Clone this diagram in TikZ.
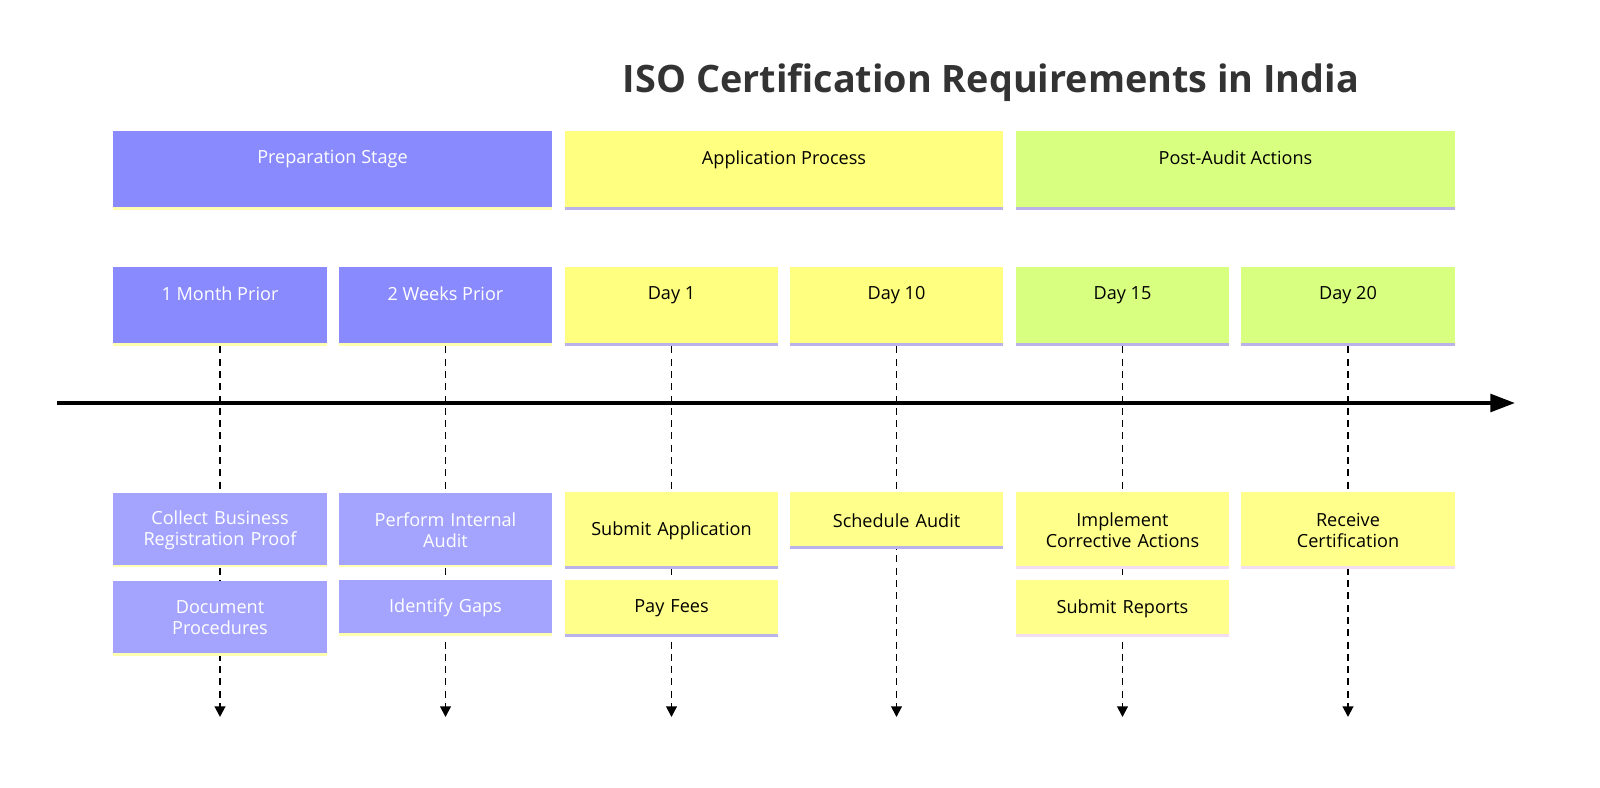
\documentclass[tikz,border=0pt]{standalone}
\usepackage{fontspec}
\setmainfont{Open Sans}
\usetikzlibrary{positioning, arrows.meta}
\definecolor{prepc}{HTML}{8A8AFF}
\definecolor{prepev}{HTML}{A4A4FF}
\definecolor{appc}{HTML}{FFFF80}
\definecolor{postc}{HTML}{D9FF80}
\definecolor{evy}{HTML}{FFFF8C}
\definecolor{stripp}{HTML}{B9B3EA}
\definecolor{stripy}{HTML}{FFFFB0}
\definecolor{strippk}{HTML}{F2DDF2}
\definecolor{ink}{HTML}{333333}
\tikzset{
  box/.style={rectangle, inner sep=0pt, align=center, font=\fontsize{10.3}{12}\selectfont},
  strip/.style={path picture={\draw[#1, line width=1.7pt] ([yshift=0.85pt]path picture bounding box.south west) -- ([yshift=0.85pt]path picture bounding box.south east);}},
  sect/.style={box, minimum width=8.78cm, minimum height=1.58cm, text depth=15pt},
  period/.style={box, minimum width=4.28cm, minimum height=1.58cm, text depth=15pt},
  event/.style={box, minimum width=4.28cm, text width=4cm},
  guide/.style={dash pattern=on 4pt off 3pt, line width=1.1pt, -{Triangle[length=6pt,width=6pt]}},
}
\begin{document}
\begin{tikzpicture}[x=0.02cm, y=-0.02cm]
  \useasboundingbox (0,0) rectangle (1600,788);
  \node[font=\fontsize{21.5}{26}\selectfont\bfseries, text=ink] (title) at (991,83) {ISO Certification Requirements in India};
  % sections
  \node[sect, fill=prepc, text=white, strip=stripy] (prep) at (332.5,170.5) {Preparation Stage};
  \node[sect, fill=appc, strip=stripp] (app) at (784,170.5) {Application Process};
  \node[sect, fill=postc, strip=stripp] (post) at (1235.5,170.5) {Post-Audit Actions};
  % periods
  \node[period, fill=prepc, text=white, strip=stripy] (p1) at (220,306.5) {1 Month Prior};
  \node[period, fill=prepc, text=white, strip=stripy] (p2) at (445.5,306.5) {2 Weeks Prior};
  \node[period, fill=appc, strip=stripp] (p3) at (671.5,306.5) {Day 1};
  \node[period, fill=appc, strip=stripp] (p4) at (896.5,306.5) {Day 10};
  \node[period, fill=postc, strip=stripp] (p5) at (1122.5,306.5) {Day 15};
  \node[period, fill=postc, strip=stripp] (p6) at (1348,306.5) {Day 20};
  % axis
  \coordinate (axs) at (57,403);
  \coordinate (axe) at (1515,403);
  \draw[line width=2.2pt, -{Triangle[length=14pt,width=10pt]}] (axs) -- (axe);
  % guides
  \foreach \p/\x in {p1/220, p2/445.5, p3/671.5, p4/896.5, p5/1122.5, p6/1348} {
    \coordinate (\p-end) at (\x,717);
    \draw[guide] (\p.south) -- (\p-end);
  }
  % events
  \node[event, fill=prepev, text=white, minimum height=1.5cm, strip=stripy] (e1) at (220,530) {Collect Business\\Registration Proof};
  \node[event, fill=prepev, text=white, minimum height=1.5cm, strip=stripy] (e2) at (220,618) {Document\\Procedures};
  \node[event, fill=prepev, text=white, minimum height=1.5cm, strip=stripy] (e3) at (445.5,530) {Perform Internal\\Audit};
  \node[event, fill=prepev, text=white, minimum height=1.12cm, strip=stripy] (e4) at (445.5,608) {Identify Gaps};
  \node[event, fill=evy, minimum height=1.55cm, strip=stripp] (e5) at (671.5,530.5) {Submit Application};
  \node[event, fill=evy, minimum height=1.15cm, strip=stripp] (e6) at (671.5,608.5) {Pay Fees};
  \node[event, fill=evy, minimum height=1.15cm, strip=stripp] (e7) at (896.5,520.5) {Schedule Audit};
  \node[event, fill=evy, minimum height=1.55cm, strip=strippk] (e8) at (1122.5,530.5) {Implement\\Corrective Actions};
  \node[event, fill=evy, minimum height=1.15cm, strip=strippk] (e9) at (1122.5,608.5) {Submit Reports};
  \node[event, fill=evy, minimum height=1.55cm, strip=strippk] (e10) at (1348,530.5) {Receive\\Certification};
\end{tikzpicture}
\end{document}
